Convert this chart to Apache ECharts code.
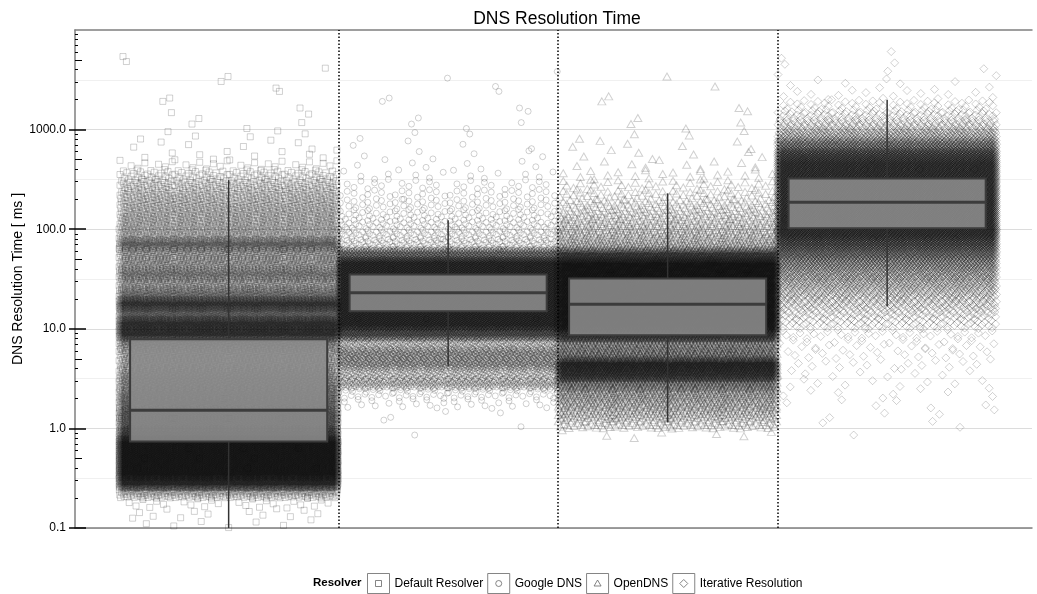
<!DOCTYPE html>
<html><head><meta charset="utf-8">
<script src="https://cdn.jsdelivr.net/npm/echarts@6/dist/echarts.min.js"></script>
<style>html,body{margin:0;padding:0;background:#fff}#c{width:1037px;height:594px}</style>
</head><body><div id="c"></div><script>
// ---------------- DATA ----------------
const categories = ['Default Resolver', 'Google DNS', 'OpenDNS', 'Iterative Resolution'];
const categoryX = [1, 2, 3, 4];
// histogram of observations: bins of 0.1 decade starting at log10 = -1.0 (0.1 ms)
const binStartLog = -1.0;
const binStep = 0.1;
const countsDefault = [8,12,25,250,1000,1300,1300,1300,1300,800, 600,600,500,450,400,350,300,300,400,900, 900,550,850,450,320,420,320,320,500,260, 250,240,220,190,150,90,30,10,7,6, 3,3,2,2,2,1,2,1];
const countsGoogle  = [0,0,0,0,0,0,0,0,0,1, 2,3,30,60,300,250,450,450,280,900, 1300,1300,1300,1300,1300,1300,1300,700,130,100, 80,60,50,38,26,15,8,6,4,3, 3,2,2,2,1,2,0,0];
const countsOpenDNS = [0,0,0,0,0,0,0,0,0,8, 120,200,250,300,450,900,1000,450,400,900, 1300,1300,1300,1300,1300,1300,1300,800,240,190, 150,120,85,55,35,20,10,7,6,4, 3,2,2,1,1,1,0,0];
const countsIter    = [0,0,0,0,0,0,0,0,0,1, 3,4,6,8,10,10,15,20,25,35, 90,130,190,260,350,450,580,780,1050,1300, 1300,1300,1300,1300,1300,1300,1300,1100,700,350, 180,100,50,15,8,4,3,2];
// box statistics (ms)
const whiskerLow  = [0.1, 4.2, 1.15, 16.8];
const quartile1   = [0.74, 15.0, 8.6, 102];
const medians     = [1.52, 23.0, 17.6, 186];
const quartile3   = [7.85, 35.0, 32.0, 323];
const whiskerHigh = [311, 123, 229, 1990];
// axis ticks
const majorTicks = [0.1, 1, 10, 100, 1000];
const minorTicks = [0.2,0.3,0.4,0.6,0.7,0.8,0.9, 2,3,4,6,7,8,9, 20,30,40,60,70,80,90, 200,300,400,600,700,800,900, 2000,3000,4000,6000,7000,8000,9000];
const midTicks = [0.5, 5, 50, 500, 5000];
const halfDecades = [0.316227766, 3.16227766, 31.6227766, 316.227766, 3162.27766];
const separators = [1.5, 2.5, 3.5];

// ---------------- STYLE ----------------
const FONT = '"Liberation Sans", Arial, sans-serif';
const jitterWidth = 1.0;
const boxHalf = 0.449;
const symbols = ['rect', 'circle', 'triangle', 'diamond'];
const symbolSizes = [6, 6, [8, 7], 8];
const legendIcons = [
  'path://M0,0H22V20H0Z M8,7H14V13H8Z',
  'path://M0,0H22V20H0Z M14,10A3,3 0 1,1 8,10A3,3 0 1,1 14,10Z',
  'path://M0,0H22V20H0Z M11,6.5L14.5,12.5H7.5Z',
  'path://M0,0H22V20H0Z M11,6L15,10L11,14L7,10Z'
];

// radical inverse (van der Corput) used for deterministic, non-random jitter
function radInv(n, b) {
  let inv = 1 / b, f = inv, r = 0;
  while (n > 0) { r += (n % b) * f; n = Math.floor(n / b); f *= inv; }
  return r;
}
// spread each bin's observations over the bin (Hammersley-style placement)
function buildPoints(center, counts) {
  const pts = [];
  counts.forEach((n, i) => {
    const lo = binStartLog + i * binStep;
    for (let k = 0; k < n; k++) {
      const u = radInv(k + 1 + i * 17, 2);
      const v = (k + radInv(k + 1, 3)) / n;
      pts.push([center + (u - 0.5) * jitterWidth, Math.pow(10, lo + v * binStep)]);
    }
  });
  return pts;
}
const allCounts = [countsDefault, countsGoogle, countsOpenDNS, countsIter];

const yBase = {
  type: 'log', logBase: 10, min: 0.1, max: 10000, position: 'left',
  axisLine: {show: false}, axisLabel: {show: false}, axisTick: {show: false},
  splitLine: {show: false}, minorTick: {show: false}, minorSplitLine: {show: false}
};
const xBase = {
  type: 'value', min: 0.3, max: 4.66,
  axisTick: {show: false}, axisLabel: {show: false}, splitLine: {show: false}
};

const scatterSeries = categories.map((name, c) => ({
  type: 'scatter', name: name,
  data: buildPoints(categoryX[c], allCounts[c]),
  symbol: symbols[c], symbolSize: symbolSizes[c],
  itemStyle: {color: 'rgba(0,0,0,0)', borderColor: 'rgba(0,0,0,0.23)', borderWidth: 1},
  silent: true, animation: false, progressive: 0, large: false, z: 2,
  emphasis: {disabled: true}
}));

const boxData = categories.map((n, c) => [categoryX[c], whiskerLow[c], quartile1[c], medians[c], quartile3[c], whiskerHigh[c]]);

const option = {
  animation: false,
  backgroundColor: '#fff',
  textStyle: {fontFamily: FONT},
  title: [
    {text: 'DNS Resolution Time', left: 557, textAlign: 'center', top: 10, padding: 0,
     textStyle: {fontFamily: FONT, fontSize: 17.5, fontWeight: 'normal', color: '#000'}},
    {text: 'Resolver', left: 313, top: 577, padding: 0,
     textStyle: {fontFamily: FONT, fontSize: 11.5, fontWeight: 'bold', color: '#000'}}
  ],
  legend: {
    left: 367, top: 573, itemWidth: 22, itemHeight: 20, itemGap: 4, padding: 0,
    selectedMode: false,
    textStyle: {fontFamily: FONT, fontSize: 12, color: '#000'},
    itemStyle: {color: 'rgba(0,0,0,0)', borderColor: '#666', borderWidth: 1},
    data: categories.map((n, i) => ({name: n, icon: legendIcons[i]}))
  },
  grid: {left: 75, right: 5, top: 30, bottom: 66, containLabel: false, outerBoundsMode: 'none'},
  xAxis: [
    Object.assign({}, xBase, {position: 'bottom', axisLine: {show: true, onZero: false, lineStyle: {color: '#7f7f7f', width: 1.5}}}),
    Object.assign({}, xBase, {position: 'top', axisLine: {show: true, onZero: false, lineStyle: {color: '#7f7f7f', width: 1.5}}})
  ],
  yAxis: [
    Object.assign({}, yBase, {
      axisLine: {show: true, lineStyle: {color: '#7f7f7f', width: 1.5}},
      axisLabel: {show: true, customValues: majorTicks, formatter: v => Number(v).toFixed(1), fontFamily: FONT, fontSize: 12, color: '#000', margin: 9},
      axisTick: {show: true, customValues: majorTicks, inside: true, length: 11, lineStyle: {color: '#000', width: 1.5}},
      splitLine: {show: true, lineStyle: {color: '#dcdcdc', width: 1}},
      name: 'DNS Resolution Time [ ms ]', nameLocation: 'middle', nameGap: 50, nameMoveOverlap: false,
      nameTextStyle: {fontFamily: FONT, fontSize: 14, color: '#000'}
    }),
    Object.assign({}, yBase, {axisTick: {show: true, customValues: majorTicks, inside: false, length: 6, lineStyle: {color: '#000', width: 1.5}}}),
    Object.assign({}, yBase, {axisTick: {show: true, customValues: minorTicks, inside: true, length: 3, lineStyle: {color: '#000', width: 1}}}),
    Object.assign({}, yBase, {axisTick: {show: true, customValues: midTicks, inside: true, length: 7, lineStyle: {color: '#000', width: 1}}}),
    Object.assign({}, yBase, {axisTick: {show: false, customValues: halfDecades}, splitLine: {show: true, lineStyle: {color: '#f0f0f0', width: 1}}})
  ],
  series: scatterSeries.concat([
    {
      type: 'custom', name: 'boxes', data: boxData, z: 5, silent: true,
      encode: {x: 0, y: [1, 2, 3, 4, 5]},
      renderItem: function (params, api) {
        const x = api.value(0);
        const lo = api.coord([x, api.value(1)]);
        const q1 = api.coord([x, api.value(2)]);
        const md = api.coord([x, api.value(3)]);
        const q3 = api.coord([x, api.value(4)]);
        const hi = api.coord([x, api.value(5)]);
        const left = api.coord([x - boxHalf, api.value(3)])[0];
        const right = api.coord([x + boxHalf, api.value(3)])[0];
        return {type: 'group', children: [
          {type: 'line', shape: {x1: lo[0], y1: lo[1], x2: q1[0], y2: q1[1]}, style: {stroke: '#333', lineWidth: 1.5}},
          {type: 'line', shape: {x1: q3[0], y1: q3[1], x2: hi[0], y2: hi[1]}, style: {stroke: '#333', lineWidth: 1.5}},
          {type: 'rect', shape: {x: left, y: q3[1], width: right - left, height: q1[1] - q3[1]}, style: {fill: 'rgba(140,140,140,0.88)', stroke: '#3c3c3c', lineWidth: 2}},
          {type: 'line', shape: {x1: left, y1: md[1], x2: right, y2: md[1]}, style: {stroke: '#3c3c3c', lineWidth: 3}}
        ]};
      }
    },
    {
      type: 'line', name: 'separators', data: [], z: 6, silent: true,
      markLine: {silent: true, symbol: 'none', animation: false,
        label: {show: false},
        lineStyle: {color: '#000', width: 1.5, type: [1.5, 2]},
        data: separators.map(v => ({xAxis: v}))}
    }
  ])
};
const chart = echarts.init(document.getElementById('c'), null, {renderer: 'canvas'});
chart.setOption(option);
</script></body></html>
